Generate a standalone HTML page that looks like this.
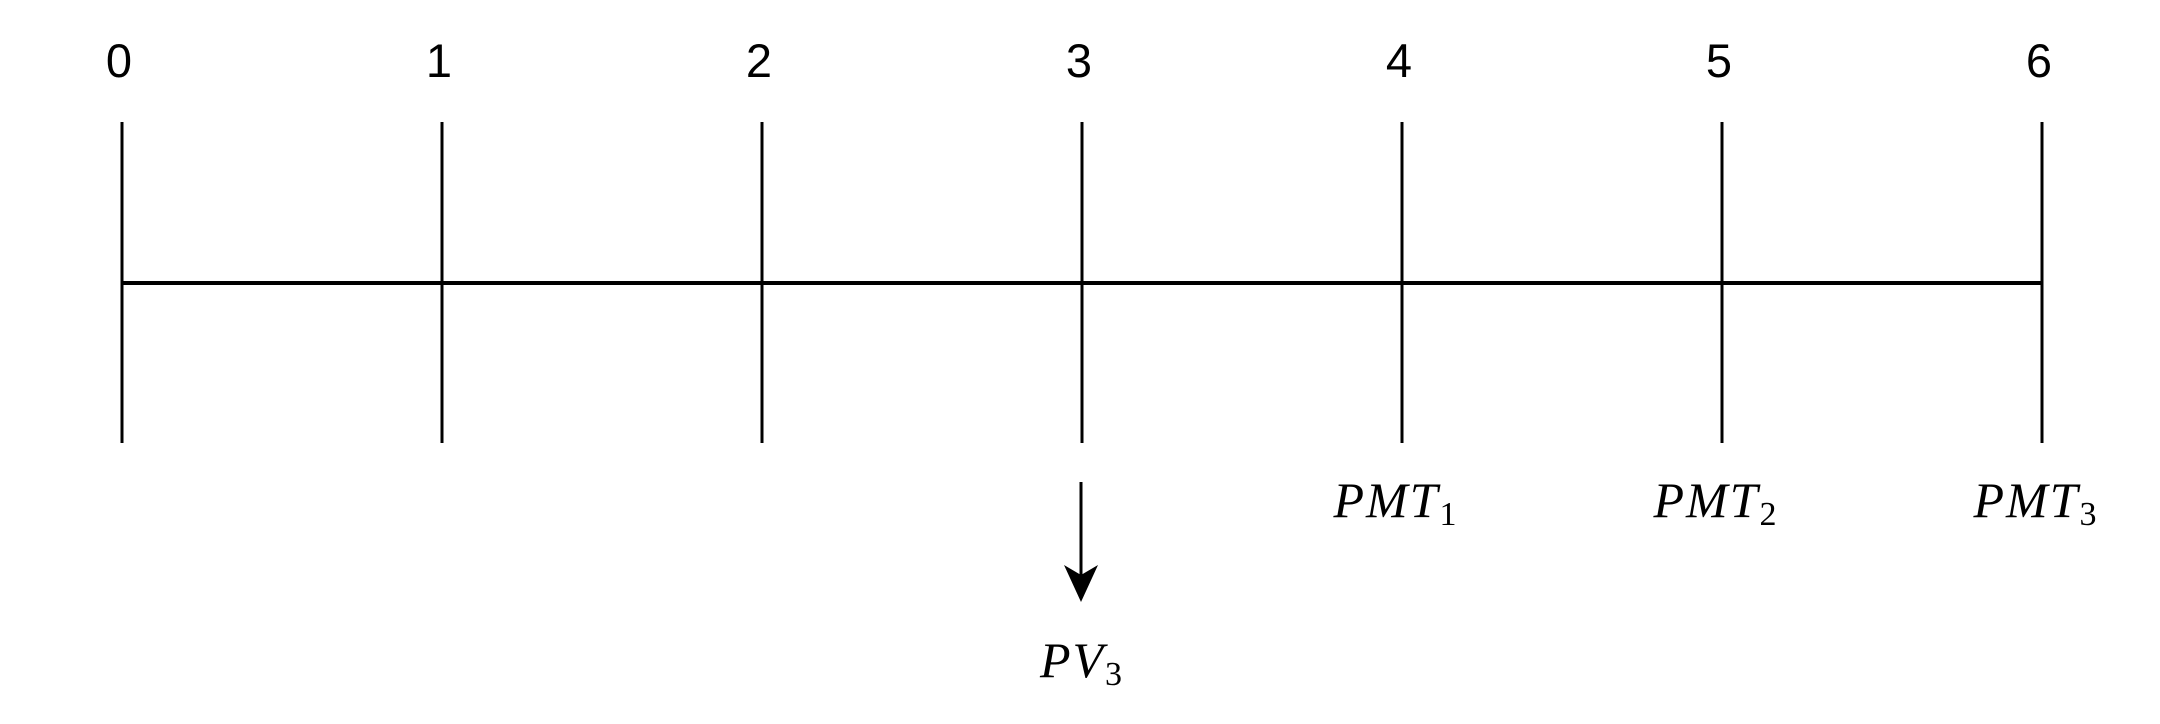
<!DOCTYPE html>
<html><head><meta charset="utf-8"><style>
html,body{margin:0;padding:0;background:#fff;}
svg{display:block;}
.d{font-family:"Liberation Sans",sans-serif;font-size:47px;}
.m{font-family:"Liberation Serif",serif;font-style:italic;font-size:50px;letter-spacing:2px;}
</style></head><body>
<svg id="chart" width="2160" height="724" viewBox="0 0 2160 724">
<line x1="122" y1="283" x2="2042" y2="283" stroke="#000" stroke-width="4"/>
<g id="ticks"></g>
<g id="labels"></g>
</svg>
<script>
const periods = [0,1,2,3,4,5,6];
const payments = [{p:4,label:"PMT",sub:"1"},{p:5,label:"PMT",sub:"2"},{p:6,label:"PMT",sub:"3"}];
const pvPeriod = 3;
const pvLabel = "PV";
const pvSub = "3";
const NS='http://www.w3.org/2000/svg';
const x = p => 122 + p*320;
const tg=document.getElementById('ticks'), lg=document.getElementById('labels');
function mk(tag,attrs,parent){const e=document.createElementNS(NS,tag);for(const k in attrs)e.setAttribute(k,attrs[k]);parent.appendChild(e);return e;}
periods.forEach(p=>{
  const l=mk('line',{x1:x(p),y1:122,x2:x(p),y2:443,stroke:'#000','stroke-width':3},tg);
  
  
  const t=mk('text',{x:x(p)-3,y:77,'text-anchor':'middle',class:'d'},lg);
  t.textContent=p;
  
  
});
payments.forEach(d=>{
  const t=mk('text',{x:x(d.p)-6,y:517,'text-anchor':'middle',class:'m'},lg);
  
  
  const a=mk('tspan',{},t);a.textContent=d.label;
  const s=mk('tspan',{'font-size':'34','dy':'8','font-style':'normal'},t);s.textContent=d.sub;
});
const ax=x(pvPeriod);
const ar=mk('line',{x1:ax-1,y1:482,x2:ax-1,y2:580,stroke:'#000','stroke-width':3},tg);


const ah=mk('path',{d:`M${ax-1},602 L${ax-18},565 L${ax-1},575 L${ax+16},565 Z`,fill:'#000'},tg);


const pv=mk('text',{x:ax,y:677,'text-anchor':'middle',class:'m'},lg);


const p1=mk('tspan',{},pv);p1.textContent=pvLabel;
const p2=mk('tspan',{'font-size':'34','dy':'8','font-style':'normal'},pv);p2.textContent=pvSub;
</script>
</body></html>
